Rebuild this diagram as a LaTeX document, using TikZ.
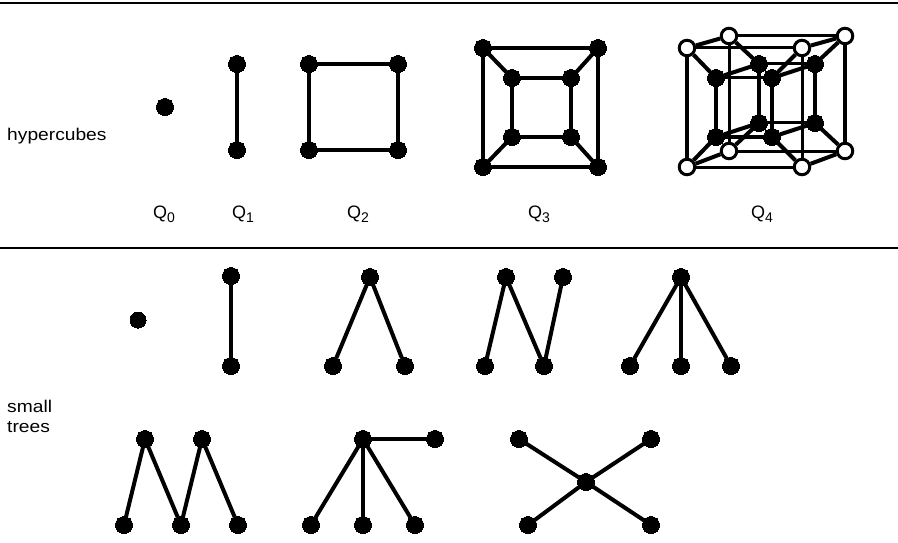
\documentclass[tikz,border=0pt]{standalone}
\usepackage{fontspec}
\setmainfont{Liberation Sans}
\usetikzlibrary{backgrounds}
\tikzset{
  vtx/.style={circle,fill=black,draw=black,line width=0pt,inner sep=0pt,minimum size=17pt},
  vsm/.style={circle,fill=black,draw=black,line width=0pt,inner sep=0pt,minimum size=16pt},
  wht/.style={circle,fill=white,draw=black,line width=3pt,inner sep=0pt,minimum size=15.5pt},
  edge/.style={line width=4pt,black},
  midedge/.style={line width=3.6pt,black},
  thinedge/.style={line width=3pt,black},
  rule/.style={line width=2.6pt,black},
  lab/.style={inner sep=0pt,font=\fontsize{17}{20}\selectfont,xscale=1.13,transform shape,anchor=base west,align=left},
  qlab/.style={inner sep=0pt,font=\fontsize{18}{20}\selectfont,anchor=base west}
}
\newcommand{\qsub}[1]{\raisebox{-4.5pt}{\fontsize{14}{14}\selectfont #1}}
\begin{document}
\begin{tikzpicture}[x=1pt,y=-1pt]
\useasboundingbox (0,0) rectangle (898,543);
\coordinate (r1a) at (0,3); \coordinate (r1b) at (898,3);
\coordinate (r2a) at (0,248); \coordinate (r2b) at (898,248);
\draw[rule] (r1a) -- (r1b);
\draw[rule] (r2a) -- (r2b);
\node[lab] (thyper) at (7,140.5) {hypercubes};
\node[lab] (tsmall) at (7,412) {small};
\node[lab] (ttrees) at (7,432) {trees};
\node[qlab] (q0) at (153,218) {Q\qsub{0}};
\node[qlab] (q1) at (232,218) {Q\qsub{1}};
\node[qlab] (q2) at (347,218) {Q\qsub{2}};
\node[qlab] (q3) at (528,218) {Q\qsub{3}};
\node[qlab] (q4) at (751,218) {Q\qsub{4}};
% Q0, Q1, Q2
\node[vtx] (a) at (165,107) {};
\node[vtx] (b1) at (237,64) {};
\node[vtx] (b2) at (237,150) {};
\node[vtx] (c1) at (309,64) {};
\node[vtx] (c2) at (398,64) {};
\node[vtx] (c3) at (398,150) {};
\node[vtx] (c4) at (309,150) {};
% Q3
\node[vtx] (d1) at (483,48) {};
\node[vtx] (d2) at (598,48) {};
\node[vtx] (d3) at (598,167) {};
\node[vtx] (d4) at (483,167) {};
\node[vtx] (e1) at (512,78) {};
\node[vtx] (e2) at (571,78) {};
\node[vtx] (e3) at (571,137) {};
\node[vtx] (e4) at (512,137) {};
% Q4
\node[wht] (f1) at (687,48) {};
\node[wht] (f2) at (802,48) {};
\node[wht] (f3) at (802,167) {};
\node[wht] (f4) at (687,167) {};
\node[wht] (g1) at (729,36) {};
\node[wht] (g2) at (845,36) {};
\node[wht] (g3) at (845,151) {};
\node[wht] (g4) at (729,151) {};
\node[vtx] (h1) at (716,78) {};
\node[vtx] (h2) at (772,78) {};
\node[vtx] (h3) at (772,137) {};
\node[vtx] (h4) at (716,137) {};
\node[vtx] (i1) at (759,64) {};
\node[vtx] (i2) at (815,64) {};
\node[vtx] (i3) at (815,123) {};
\node[vtx] (i4) at (759,123) {};
% trees row 1
\node[vsm] (t1) at (138,320) {};
\node[vtx] (t2) at (231,276) {};
\node[vtx] (t3) at (231,366) {};
\node[vtx] (t4) at (370,277) {};
\node[vtx] (t5) at (333,366) {};
\node[vtx] (t6) at (405,366) {};
\node[vtx] (t7) at (485,366) {};
\node[vtx] (t8) at (506,277) {};
\node[vtx] (t9) at (544,366) {};
\node[vtx] (t10) at (563,277) {};
\node[vtx] (t11) at (681,277) {};
\node[vtx] (t12) at (630,366) {};
\node[vtx] (t13) at (681,366) {};
\node[vtx] (t14) at (731,366) {};
% trees row 2
\node[vtx] (u1) at (124,525) {};
\node[vtx] (u2) at (145,439) {};
\node[vtx] (u3) at (181,525) {};
\node[vtx] (u4) at (202,439) {};
\node[vtx] (u5) at (238,525) {};
\node[vtx] (u6) at (363,439) {};
\node[vtx] (u7) at (311,525) {};
\node[vtx] (u8) at (363,525) {};
\node[vtx] (u9) at (415,525) {};
\node[vtx] (u10) at (435,439) {};
\node[vtx] (u11) at (586,482) {};
\node[vtx] (u12) at (519,439) {};
\node[vtx] (u13) at (651,439) {};
\node[vtx] (u14) at (528,525) {};
\node[vtx] (u15) at (651,525) {};
\begin{pgfonlayer}{background}
\draw[edge] (b1.center) -- (b2.center);
\draw[midedge] (c1.center) -- (c2.center) -- (c3.center) -- (c4.center) -- cycle;
\draw[edge] (d1.center) -- (d2.center) -- (d3.center) -- (d4.center) -- cycle;
\draw[midedge] (e1.center) -- (e2.center) -- (e3.center) -- (e4.center) -- cycle;
\foreach \p/\q in {d1/e1,d2/e2,d3/e3,d4/e4} \draw[edge] (\p.center) -- (\q.center);
% Q4 outer cube
\draw[thinedge] (f1) -- (f2);
\draw[edge] (f1) -- (f4);
\draw[thinedge] (f2) -- (f3);
\draw[thinedge] (f3) -- (f4);
\draw[thinedge] (g1) -- (g2);
\draw[thinedge] (g1) -- (g4);
\draw[edge] (g2) -- (g3);
\draw[thinedge] (g3) -- (g4);
\foreach \p/\q in {f1/g1,f2/g2,f3/g3,f4/g4} \draw[edge] (\p) -- (\q);
% Q4 inner cube
\draw[thinedge] (h1) -- (h2);
\draw[edge] (h1) -- (h4);
\draw[edge] (h2) -- (h3);
\draw[thinedge] (h3) -- (h4);
\draw[thinedge] (i1) -- (i2);
\draw[edge] (i1) -- (i4);
\draw[edge] (i2) -- (i3);
\draw[thinedge] (i3) -- (i4);
\foreach \p/\q in {h1/i1,h2/i2,h3/i3,h4/i4} \draw[edge] (\p) -- (\q);
% Q4 spokes
\foreach \p/\q in {f1/h1,f2/h2,f3/h3,f4/h4,g1/i1,g2/i2,g3/i3,g4/i4} \draw[edge] (\p) -- (\q);
% trees
\foreach \p/\q in {t2/t3,t4/t5,t4/t6,t7/t8,t8/t9,t9/t10,t11/t12,t11/t13,t11/t14,
  u1/u2,u2/u3,u3/u4,u4/u5,u6/u7,u6/u8,u6/u9,u6/u10,u11/u12,u11/u13,u11/u14,u11/u15}
  \draw[edge] (\p) -- (\q);
\end{pgfonlayer}
\end{tikzpicture}
\end{document}
